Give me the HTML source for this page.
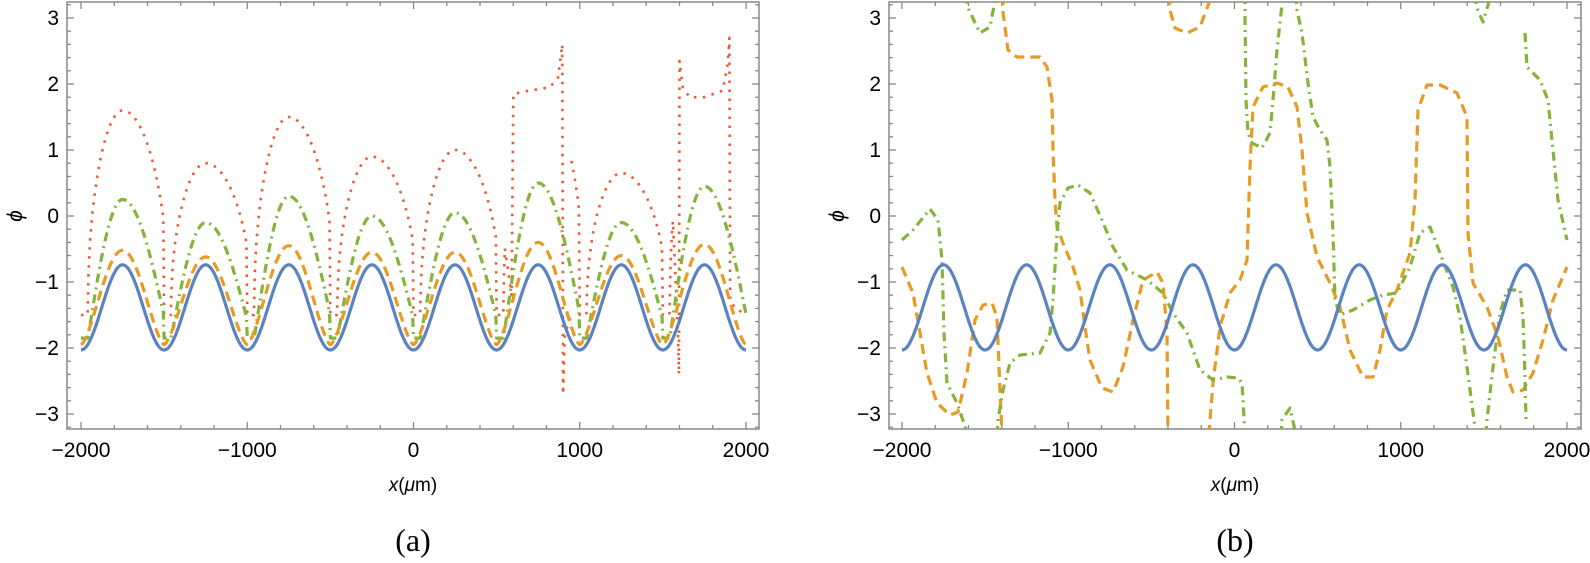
<!DOCTYPE html>
<html><head><meta charset="utf-8"><style>
body{margin:0;background:#fff}
svg{display:block}
text{font-family:"Liberation Sans",sans-serif;font-size:21px;fill:#000}
</style></head><body>
<svg id="s" width="1590" height="563" xmlns="http://www.w3.org/2000/svg"></svg>
<script>
const S=document.getElementById('s');
let h='';
function Y(v){return 216-66*v;}
function frame(x0,x1,X){
  const top=2,bot=429;
  h+=`<rect x="${x0}" y="${top}" width="${x1-x0}" height="${bot-top}" fill="none" stroke="#888" stroke-width="1.5"/>`;
  for(let x=-2000;x<=2000;x+=200){const px=X(x),L=(x%1000==0)?7:4;
    h+=`<line x1="${px}" y1="${bot}" x2="${px}" y2="${bot-L}" stroke="#888" stroke-width="1.3"/><line x1="${px}" y1="${top}" x2="${px}" y2="${top+L}" stroke="#888" stroke-width="1.3"/>`;
    if(x%1000==0)h+=`<text x="${px}" y="${bot+28}" text-anchor="middle">${x<0?'−'+(-x):x}</text>`;}
  for(let i=-16;i<=16;i++){const v=i/5,py=Y(v),L=(i%5==0)?7:4;
    h+=`<line x1="${x0}" y1="${py}" x2="${x0+L}" y2="${py}" stroke="#888" stroke-width="1.3"/><line x1="${x1}" y1="${py}" x2="${x1-L}" y2="${py}" stroke="#888" stroke-width="1.3"/>`;
    if(i%5==0)h+=`<text x="${x0-8}" y="${py+7}" text-anchor="end">${v<0?'−'+(-v):v}</text>`;}
}
const XL=x=>413.5+0.16625*x, XR=x=>1234.5+0.16625*x;
frame(67,759,XL);frame(889,1581,XR);
h+=`<text x="16" y="222" font-style="italic" transform="rotate(-90 16 216)" text-anchor="middle">ϕ</text>`;
h+=`<text x="838" y="222" font-style="italic" transform="rotate(-90 838 216)" text-anchor="middle">ϕ</text>`;
h+=`<text x="413" y="491" text-anchor="middle" style="font-size:19px"><tspan font-style="italic">x</tspan>(<tspan font-style="italic">μ</tspan>m)</text>`;
h+=`<text x="1235" y="491" text-anchor="middle" style="font-size:19px"><tspan font-style="italic">x</tspan>(<tspan font-style="italic">μ</tspan>m)</text>`;
h+=`<text x="413" y="551" text-anchor="middle" style="font-family:'Liberation Serif',serif;font-size:32px">(a)</text>`;
h+=`<text x="1235" y="551" text-anchor="middle" style="font-family:'Liberation Serif',serif;font-size:32px">(b)</text>`;
const styles={
 blue:'stroke="#5b83c0" stroke-width="3.2"',
 orange:'stroke="#e69b24" stroke-width="3.2" stroke-dasharray="10,6"',
 green:'stroke="#86b33a" stroke-width="3.2" stroke-dasharray="9,5,2,5"',
 red:'stroke="#ec5a34" stroke-width="2.6" stroke-dasharray="2.5,6.5"'};
function pl(pts,st,clip){h+=`<polyline fill="none" ${styles[st]} stroke-linejoin="round" ${clip||''} points="${pts.map(p=>p[0].toFixed(1)+','+p[1].toFixed(1)).join(' ')}"/>`;}
function fam(lo,peaks,p,skew){
  const pts=[];
  for(let x=-2000;x<=2000;x+=5){
    let k=Math.min(7,Math.floor((x+2000)/500)),c=-1750+500*k,u=(x-c)/250;
    if(skew)u=u<0?u*1.2:u*0.9;
    u=Math.max(-1,Math.min(1,u));
    let f=Math.pow((1+Math.cos(Math.PI*u))/2,p);
    pts.push([x,lo+(peaks[k]-lo)*f]);}
  return pts;}
function toPx(pts,X){return pts.map(q=>[X(q[0]),Y(q[1])]);}
h+=`<defs><clipPath id="cl"><rect x="67" y="2" width="692" height="427"/></clipPath><clipPath id="cr"><rect x="889" y="2" width="692" height="427"/></clipPath></defs>`;
let red=fam(-1.5,[1.6,0.8,1.5,0.9,1.0,1.9,0.65,1.9],0.22,true).filter(q=>!(q[0]>550&&q[0]<950)&&!(q[0]>1560));
let redA=red.filter(q=>q[0]<=550), redB=red.filter(q=>q[0]>=950&&q[0]<=1560);
redA=redA.concat([[590,-1.2],[600,1.85],[700,1.9],[820,1.95],[870,2.1],[895,2.6],[900,-2.7],[910,-1.8],[950,-1.5]]);
redB=[...redB,[1590,-1.7],[1597,-2.4],[1600,2.35],[1620,1.95],[1660,1.8],[1750,1.8],[1860,1.9],[1890,2.3],[1900,2.7],[1905,-1.3],[1940,-1.4],[2000,-1.5]];
pl(toPx(redA,XL),'red');pl(toPx(redB,XL),'red');
pl(toPx(fam(-1.85,[0.25,-0.1,0.3,0,0.05,0.5,-0.1,0.45],0.5,true),XL),'green');
pl(toPx(fam(-1.95,[-0.52,-0.62,-0.45,-0.55,-0.55,-0.4,-0.6,-0.43],0.75,false),XL),'orange');
pl(toPx(fam(-2.03,[-.74,-.74,-.74,-.74,-.74,-.74,-.74,-.74],1,false),XL),'blue');
const O=[
[[902,267],[913,293],[920,333],[927,373],[937,403],[950,415],[958,412],[967,373],[975,320],[983,305],[992,303],[997,317],[999,367],[1002,435]],
[[1003,-5],[1003,12],[1008,50],[1017,57],[1040,57],[1047,67],[1052,100],[1053,150],[1055,200],[1057,227],[1063,243],[1073,267],[1080,290],[1085,327],[1090,360],[1102,388],[1113,392],[1123,367],[1133,320],[1143,280],[1157,272],[1163,283],[1167,333],[1168,435]],
[[1169,-5],[1170,10],[1175,28],[1187,33],[1200,27],[1212,-5]],
[[1209,435],[1210,420],[1213,383],[1220,327],[1230,293],[1240,280],[1247,260],[1250,167],[1253,107],[1263,87],[1277,83],[1288,87],[1297,107],[1302,150],[1307,213],[1317,257],[1330,283],[1340,307],[1350,350],[1363,377],[1373,377],[1380,350],[1387,310],[1397,290],[1410,253],[1415,200],[1418,110],[1427,85],[1440,85],[1457,93],[1467,117],[1468,233],[1473,283],[1487,307],[1498,337],[1507,377],[1513,392],[1523,390],[1533,373],[1543,340],[1553,300],[1567,267]]];
const G=[
[[902,240],[913,230],[930,209],[938,220],[942,260],[944,333],[947,383],[957,403],[968,435]],
[[966,-5],[968,8],[980,33],[990,27],[996,-5]],
[[997,435],[998,420],[1003,390],[1010,363],[1020,355],[1040,353],[1050,333],[1053,300],[1057,233],[1060,203],[1068,188],[1078,185],[1090,193],[1102,220],[1113,247],[1127,270],[1147,280],[1163,293],[1173,313],[1187,333],[1200,370],[1213,380],[1227,377],[1238,378],[1242,383],[1245,435]],
[[1245,-5],[1245,15],[1246,100],[1248,133],[1252,143],[1262,148],[1270,133],[1273,100],[1277,50],[1283,-5]],
[[1281,435],[1282,420],[1290,408],[1296,435]],
[[1296,-5],[1297,10],[1302,33],[1308,83],[1313,117],[1320,130],[1327,140],[1330,167],[1333,233],[1335,300],[1340,315],[1353,310],[1370,300],[1383,295],[1397,293],[1410,267],[1420,233],[1430,227],[1440,253],[1453,287],[1460,317],[1467,367],[1476,435]],
[[1486,435],[1487,420],[1493,367],[1500,313],[1507,290],[1520,290],[1523,317],[1525,377],[1526,420]],
[[1475,-5],[1477,8],[1483,22],[1491,-5]],
[[1525,33],[1527,67],[1540,80],[1548,100],[1553,150],[1558,200],[1567,240]]];
O.forEach(s=>pl(s,'orange','clip-path="url(#cr)"'));
G.forEach(s=>pl(s,'green','clip-path="url(#cr)"'));
pl(toPx(fam(-2.03,[-.74,-.74,-.74,-.74,-.74,-.74,-.74,-.74],1,false),XR),'blue');
S.innerHTML=h;
</script>
</body></html>
